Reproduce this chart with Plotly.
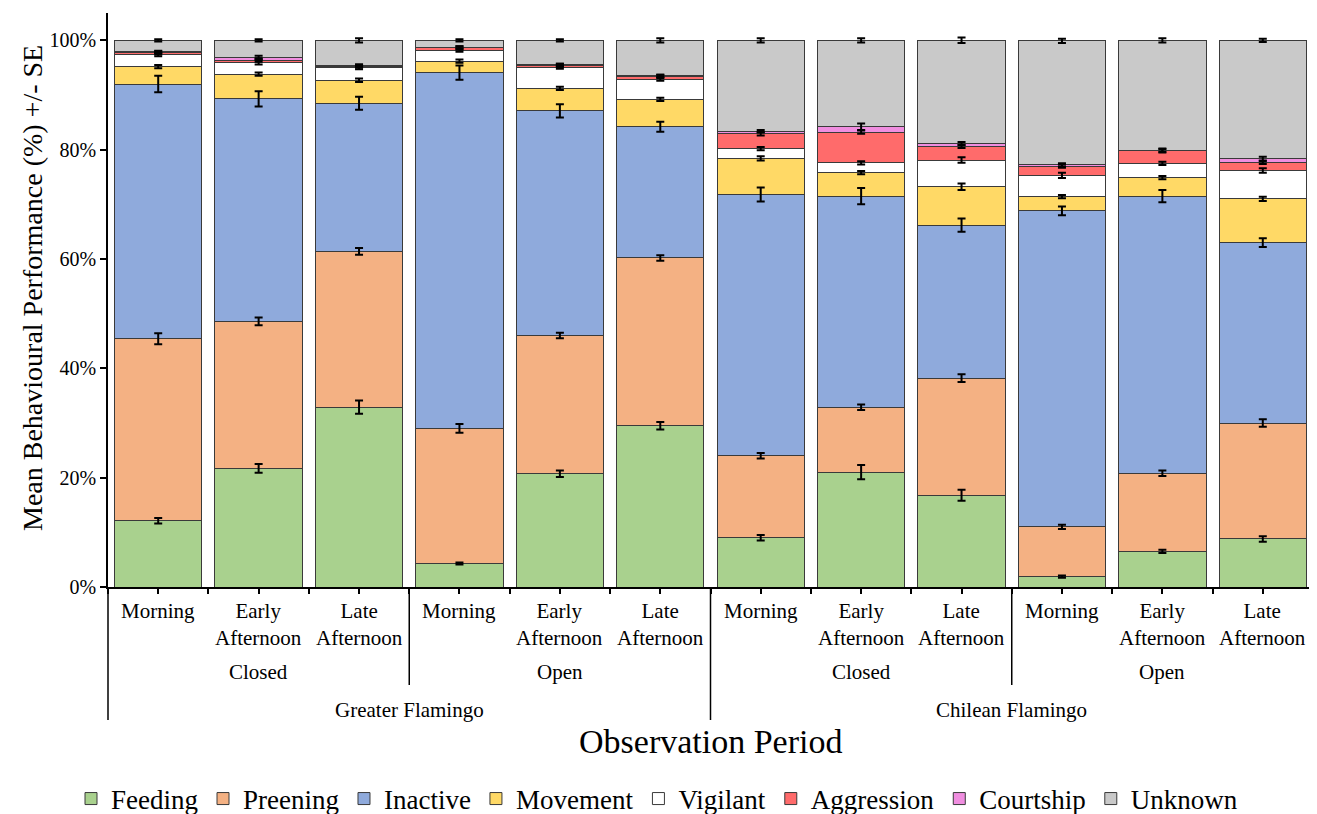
import plotly.graph_objects as go
import numpy as np

# --- categories ---
species = ["Greater Flamingo", "Chilean Flamingo"]
enclosures = ["Closed", "Open"]
periods = ["Morning", "Early<br>Afternoon", "Late<br>Afternoon"]

behaviours = ["Feeding", "Preening", "Inactive", "Movement",
              "Vigilant", "Aggression", "Courtship", "Unknown"]

y_ticks = [0, 20, 40, 60, 80, 100]
y_tick_labels = ["0%", "20%", "40%", "60%", "80%", "100%"]

# --- mean % per observation period (12 bars, left to right) ---
feeding    = [12.1, 21.7, 32.9, 4.3, 20.7, 29.5, 9.0, 21.0, 16.8, 1.9, 6.5, 8.8]
preening   = [33.3, 26.9, 28.5, 24.7, 25.3, 30.7, 15.0, 11.9, 21.4, 9.1, 14.3, 21.2]
inactive   = [46.6, 40.7, 27.1, 65.1, 41.1, 24.0, 47.8, 38.6, 28.0, 57.8, 50.7, 33.0]
movement   = [3.2, 4.5, 4.2, 2.1, 4.1, 5.0, 6.6, 4.3, 7.0, 2.6, 3.4, 8.0]
vigilant   = [2.2, 2.2, 2.3, 2.0, 3.9, 3.7, 1.8, 1.8, 4.9, 3.9, 2.6, 5.2]
aggression = [0.3, 0.4, 0.3, 0.4, 0.3, 0.5, 2.7, 5.6, 2.5, 1.7, 2.3, 1.5]
courtship  = [0.2, 0.5, 0.1, 0.1, 0.1, 0.1, 0.5, 1.0, 0.5, 0.2, 0.1, 0.6]
unknown    = [2.1, 3.1, 4.6, 1.3, 4.5, 6.5, 16.6, 15.8, 18.9, 22.7, 20.1, 21.7]

# --- standard errors ---
feeding_se    = [0.5, 0.8, 1.2, 0.2, 0.6, 0.7, 0.5, 1.3, 1.0, 0.2, 0.3, 0.5]
preening_se   = [1.0, 0.7, 0.6, 0.8, 0.5, 0.5, 0.5, 0.5, 0.7, 0.4, 0.5, 0.7]
inactive_se   = [1.5, 1.4, 1.2, 1.3, 1.2, 0.9, 1.3, 1.5, 1.2, 0.8, 1.1, 0.8]
movement_se   = [0.3, 0.3, 0.3, 0.3, 0.3, 0.3, 0.4, 0.3, 0.6, 0.3, 0.3, 0.4]
vigilant_se   = [0.3, 0.4, 0.3, 0.3, 0.3, 0.3, 0.3, 0.3, 0.5, 0.5, 0.3, 0.4]
aggression_se = [0.3, 0.3, 0.3, 0.3, 0.3, 0.3, 0.3, 0.3, 0.3, 0.3, 0.3, 0.3]
courtship_se  = [0.2, 0.3, 0.2, 0.2, 0.2, 0.2, 0.2, 0.6, 0.3, 0.3, 0.3, 0.4]
unknown_se    = [0.2, 0.2, 0.4, 0.2, 0.2, 0.4, 0.4, 0.4, 0.5, 0.4, 0.4, 0.3]

values = [feeding, preening, inactive, movement, vigilant, aggression, courtship, unknown]
errors = [feeding_se, preening_se, inactive_se, movement_se, vigilant_se,
          aggression_se, courtship_se, unknown_se]
colors = ["#A9D18E", "#F4B183", "#8FAADC", "#FFD966",
          "#FFFFFF", "#FF6B6B", "#F08EE0", "#C9C9C9"]

FONT = "Liberation Serif"
n = len(species) * len(enclosures) * len(periods)
xs = list(range(n))

fig = go.Figure()

# stacked bars
for name, vals, col in zip(behaviours, values, colors):
    fig.add_trace(go.Bar(
        x=xs, y=vals, name=name,
        marker=dict(color=col, line=dict(color="#3a3a3a", width=1)),
        width=0.87,
    ))

# error bars drawn on top of all bars, at the top of each segment
cum = np.cumsum(np.array(values), axis=0)
for vals_top, se in zip(cum, errors):
    fig.add_trace(go.Scatter(
        x=xs, y=vals_top, mode="markers",
        marker=dict(size=1, opacity=0),
        error_y=dict(type="data", array=se, visible=True,
                     color="black", thickness=2, width=4),
        showlegend=False, hoverinfo="skip",
    ))

# page body has an 8px margin, so the figure is drawn 8px in from the corner
OFF = 8
W, H = 1317 - OFF, 814 - OFF
M_L, M_T = 108 - OFF, 13 - OFF
M_R = W - (1313 - OFF)
M_B = H - (587 - OFF)
PLOT_H = H - M_T - M_B
PLOT_W = W - M_L - M_R


def py(px):
    # screen row -> paper y
    return (587 - px) / PLOT_H


def pxx(px):
    # screen column -> paper x
    return (px - 108) / PLOT_W


def pxp(x):
    # data x -> paper x
    return (x + 0.5) / n


lab_font = dict(size=21, family=FONT, color="black")
annotations = []
shapes = []
i = 0
for sp in species:
    for enc in enclosures:
        for per in periods:
            annotations.append(dict(x=i, y=py(597), xref="x", yref="paper",
                                    text=per, showarrow=False, yanchor="top",
                                    font=lab_font))
            i += 1
        annotations.append(dict(x=i - 2, y=py(672), xref="x", yref="paper",
                                text=enc, showarrow=False, yanchor="middle",
                                font=lab_font))
    annotations.append(dict(x=i - 3.5, y=py(710), xref="x", yref="paper",
                            text=sp, showarrow=False, yanchor="middle",
                            font=lab_font))

annotations.append(dict(x=pxp(5.5), y=py(741), xref="paper", yref="paper",
                        text="Observation Period", showarrow=False,
                        xanchor="center", yanchor="middle",
                        font=dict(size=34, family=FONT, color="black")))

# y axis title
annotations.append(dict(x=pxx(33), y=py(288), xref="paper", yref="paper",
                        text="Mean Behavioural Performance (%) +/- SE",
                        textangle=-90, showarrow=False,
                        xanchor="center", yanchor="middle",
                        font=dict(size=28, family=FONT, color="black")))

# separator lines
per_group = len(periods)
for k in range(len(species) * len(enclosures) + 1):
    xb = k * per_group - 0.5
    long_line = k % len(enclosures) == 0
    shapes.append(dict(type="line", xref="paper", yref="paper",
                       x0=pxp(xb), x1=pxp(xb), y0=0, y1=py(720 if long_line else 685),
                       line=dict(color="black", width=1.5)))

fig.update_layout(
    width=W, height=H,
    barmode="stack",
    plot_bgcolor="white", paper_bgcolor="white",
    margin=dict(l=M_L, r=M_R, t=M_T, b=M_B, autoexpand=False),
    font=dict(family=FONT, color="black"),
    xaxis=dict(range=[-0.5, n - 0.5],
               tickvals=[k * 0.5 - 0.5 for k in range(2 * n + 1)],
               showticklabels=False, ticks="outside", ticklen=5,
               tickcolor="black", tickwidth=1.5,
               showline=True, linecolor="black", linewidth=1.5,
               showgrid=False, zeroline=False, automargin=False),
    yaxis=dict(range=[0, 105], tickvals=y_ticks, ticktext=y_tick_labels,
               ticks="outside", ticklen=6,
               tickcolor="black", tickwidth=1.5,
               tickfont=dict(size=20, family=FONT, color="black"),
               showline=True, linecolor="black", linewidth=1.5,
               showgrid=False, zeroline=False, automargin=False),
    legend=dict(orientation="h", x=pxx(657), xanchor="center",
                y=py(799), yanchor="middle",
                font=dict(size=27, family=FONT, color="black"),
                traceorder="normal"),
    annotations=annotations,
    shapes=shapes,
    showlegend=True,
)

fig.write_html("out.html")
